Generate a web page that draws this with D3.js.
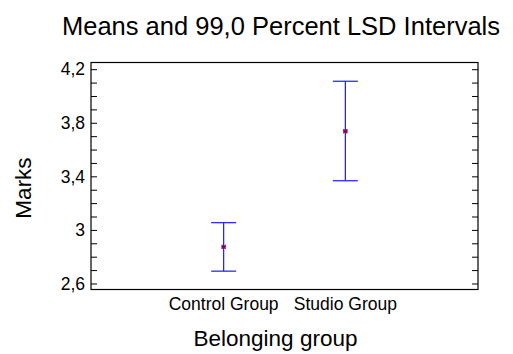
<!DOCTYPE html>
<html><head><meta charset="utf-8">
<script src="https://cdn.jsdelivr.net/npm/d3@7"></script>
<style>body{margin:0;background:#fff}svg{display:block}text{font-family:"Liberation Sans",Arial,sans-serif;fill:#000}</style>
</head><body>
<script>
const categories = ["Control Group", "Studio Group"];
const means = [2.873, 3.737];
const lower = [2.692, 3.367];
const upper = [3.054, 4.11];
const majorTicks = [2.6, 3.0, 3.4, 3.8, 4.2];
const tickLabels = ["2,6", "3", "3,4", "3,8", "4,2"];
const minorTicks = d3.range(26, 43).map(d => d / 10);
const title = "Means and 99,0 Percent LSD Intervals";
const xTitle = "Belonging group";
const yTitle = "Marks";

const W = 513, H = 354;
const L = 91, R = 478, T = 62.5, B = 289.5;
const svg = d3.select("body").append("svg").attr("width", W).attr("height", H);

const x = d3.scalePoint().domain(categories).range([L, R]).padding(1.09);
const y = d3.scaleLinear().domain([2.555, 4.25]).range([B, T]);

// frame
svg.append("rect").attr("x", L).attr("y", T).attr("width", R - L).attr("height", B - T)
  .attr("fill", "none").attr("stroke", "#000").attr("stroke-width", 1.2);

const yl = d3.axisRight(y).tickValues(minorTicks).tickSize(6).tickFormat("");
const gl = svg.append("g").attr("transform", `translate(${L},0)`).call(yl);
gl.select(".domain").remove();
gl.selectAll("line").attr("stroke", "#000");
const yr = d3.axisLeft(y).tickValues(minorTicks).tickSize(6).tickFormat("");
const gr = svg.append("g").attr("transform", `translate(${R},0)`).call(yr);
gr.select(".domain").remove();
gr.selectAll("line").attr("stroke", "#000");

svg.append("g").selectAll("text").data(majorTicks).join("text")
  .attr("x", 85).attr("y", d => y(d)).attr("dy", "0.36em")
  .attr("text-anchor", "end").attr("font-size", 17.5)
  .text((d, i) => tickLabels[i]);

svg.append("g").selectAll("text").data(categories).join("text")
  .attr("x", d => x(d)).attr("y", 310).attr("text-anchor", "middle")
  .attr("font-size", 17.5)
  .text(d => d);

const g = svg.append("g");
categories.forEach((c, i) => {
  const cx = x(c);
  g.append("line").attr("x1", cx).attr("x2", cx).attr("y1", y(lower[i])).attr("y2", y(upper[i]))
    .attr("stroke", "#1a1aff").attr("stroke-width", 1.2);
  [lower[i], upper[i]].forEach(v => {
    g.append("line").attr("x1", cx - 12.5).attr("x2", cx + 12.5).attr("y1", y(v)).attr("y2", y(v))
      .attr("stroke", "#1a1aff").attr("stroke-width", 1.2);
  });
  const my = y(means[i]);
  g.append("path").attr("d", `M${cx-2},${my-2}L${cx+2},${my+2}M${cx-2},${my+2}L${cx+2},${my-2}M${cx-2.5},${my}L${cx+2.5},${my}`)
    .attr("stroke", "#990044").attr("stroke-width", 1.3);
});

svg.append("text").attr("x", 281).attr("y", 35).attr("text-anchor", "middle")
  .attr("font-size", 25.5).text(title);
svg.append("text").attr("x", 275.5).attr("y", 346).attr("text-anchor", "middle")
  .attr("font-size", 22.5).text(xTitle);
svg.append("text").attr("transform", "translate(31,188) rotate(-90)").attr("text-anchor", "middle")
  .attr("font-size", 22.5).text(yTitle);
</script>
</body></html>
